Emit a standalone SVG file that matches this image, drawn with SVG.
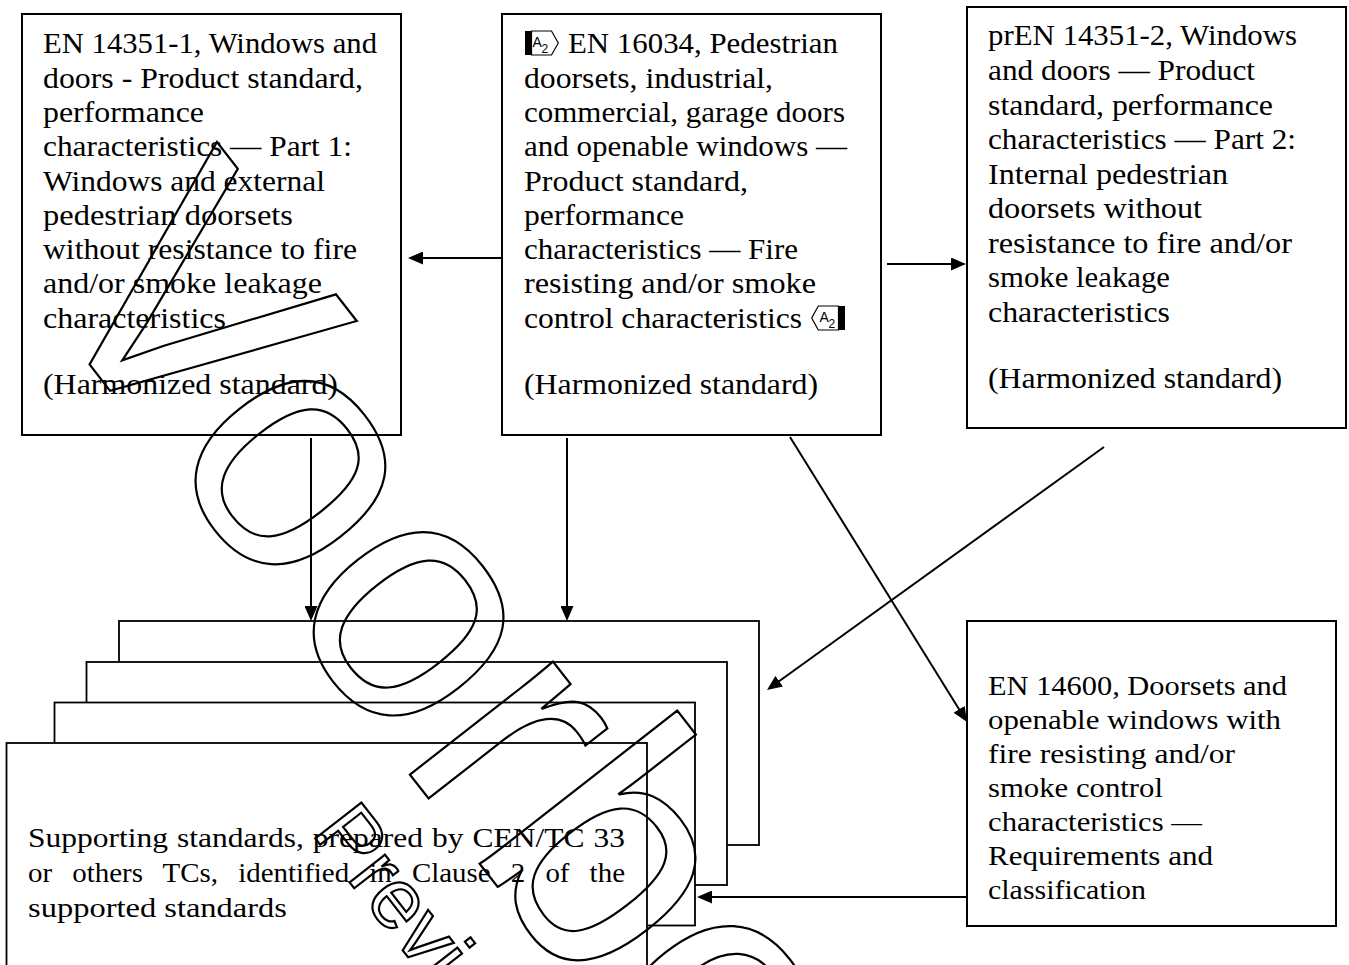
<svg xmlns="http://www.w3.org/2000/svg" width="1349" height="965" viewBox="0 0 1349 965">
<defs>
<style>
.box{fill:#fff;stroke:#000;stroke-width:2}
.stk{fill:#fff;stroke:#000;stroke-width:1.8}
.t{font-family:"Liberation Serif","Times New Roman",serif;font-size:30px;fill:#000}
.s{font-family:"Liberation Serif","Times New Roman",serif;font-size:27px;fill:#000}
.con{fill:none;stroke:#000;stroke-width:2;marker-end:url(#ah)}
.wm{font-family:"Liberation Sans",Arial,sans-serif;fill:none;stroke:#000;stroke-width:2.2}
.mk{font-family:"Liberation Sans",Arial,sans-serif;fill:#000}
</style>
<marker id="ah" markerWidth="15" markerHeight="13" refX="7" refY="6.5" orient="auto" markerUnits="userSpaceOnUse"><path d="M0,0 L15,6.5 L0,13 z" fill="#000"/></marker>
</defs>
<rect width="1349" height="965" fill="#fff"/>

<g id="en14351-1">
<rect class="box" x="22" y="14" width="379" height="421"/>
<text class="t" lengthAdjust="spacingAndGlyphs" x="43" y="53" textLength="334">EN 14351-1, Windows and</text>
<text class="t" lengthAdjust="spacingAndGlyphs" x="43" y="88" textLength="320">doors - Product standard,</text>
<text class="t" lengthAdjust="spacingAndGlyphs" x="43" y="122" textLength="161">performance</text>
<text class="t" lengthAdjust="spacingAndGlyphs" x="43" y="156" textLength="309">characteristics — Part 1:</text>
<text class="t" lengthAdjust="spacingAndGlyphs" x="43" y="191" textLength="282">Windows and external</text>
<text class="t" lengthAdjust="spacingAndGlyphs" x="43" y="225" textLength="250">pedestrian doorsets</text>
<text class="t" lengthAdjust="spacingAndGlyphs" x="43" y="259" textLength="314">without resistance to fire</text>
<text class="t" lengthAdjust="spacingAndGlyphs" x="43" y="293" textLength="279">and/or smoke leakage</text>
<text class="t" lengthAdjust="spacingAndGlyphs" x="43" y="328" textLength="183">characteristics</text>
<text class="t" lengthAdjust="spacingAndGlyphs" x="43" y="394" textLength="295">(Harmonized standard)</text>
</g>

<g id="en16034">
<rect class="box" x="502" y="14" width="379" height="421"/>
<rect x="525" y="31" width="6.5" height="24" fill="#000"/>
<path d="M531.5,31 H551.5 L558.3,43 L551.5,55 H531.5 Z" fill="#fff" stroke="#000" stroke-width="1.2"/>
<text class="mk" x="532.5" y="46.5" font-size="14">A</text>
<text class="mk" x="541.5" y="53" font-size="12">2</text>
<text class="t" lengthAdjust="spacingAndGlyphs" x="568" y="53" textLength="270">EN 16034, Pedestrian</text>
<text class="t" lengthAdjust="spacingAndGlyphs" x="524" y="88" textLength="249">doorsets, industrial,</text>
<text class="t" lengthAdjust="spacingAndGlyphs" x="524" y="122" textLength="321">commercial, garage doors</text>
<text class="t" lengthAdjust="spacingAndGlyphs" x="524" y="156" textLength="323">and openable windows —</text>
<text class="t" lengthAdjust="spacingAndGlyphs" x="524" y="191" textLength="224">Product standard,</text>
<text class="t" lengthAdjust="spacingAndGlyphs" x="524" y="225" textLength="160">performance</text>
<text class="t" lengthAdjust="spacingAndGlyphs" x="524" y="259" textLength="274">characteristics — Fire</text>
<text class="t" lengthAdjust="spacingAndGlyphs" x="524" y="293" textLength="292">resisting and/or smoke</text>
<text class="t" lengthAdjust="spacingAndGlyphs" x="524" y="328" textLength="278">control characteristics</text>
<path d="M818.3,306 H838.5 V330 H818.3 L811.7,318 Z" fill="#fff" stroke="#000" stroke-width="1.2"/>
<rect x="838.5" y="306" width="6.5" height="24" fill="#000"/>
<text class="mk" x="819.5" y="321.5" font-size="14">A</text>
<text class="mk" x="828.5" y="328" font-size="12">2</text>
<text class="t" lengthAdjust="spacingAndGlyphs" x="524" y="394" textLength="294">(Harmonized standard)</text>
</g>

<g id="pren14351-2">
<rect class="box" x="967" y="7" width="379" height="421"/>
<text class="t" lengthAdjust="spacingAndGlyphs" x="988" y="45" textLength="309">prEN 14351-2, Windows</text>
<text class="t" lengthAdjust="spacingAndGlyphs" x="988" y="80" textLength="267">and doors — Product</text>
<text class="t" lengthAdjust="spacingAndGlyphs" x="988" y="115" textLength="285">standard, performance</text>
<text class="t" lengthAdjust="spacingAndGlyphs" x="988" y="149" textLength="308">characteristics — Part 2:</text>
<text class="t" lengthAdjust="spacingAndGlyphs" x="988" y="184" textLength="240">Internal pedestrian</text>
<text class="t" lengthAdjust="spacingAndGlyphs" x="988" y="218" textLength="214">doorsets without</text>
<text class="t" lengthAdjust="spacingAndGlyphs" x="988" y="253" textLength="304">resistance to fire and/or</text>
<text class="t" lengthAdjust="spacingAndGlyphs" x="988" y="287" textLength="182">smoke leakage</text>
<text class="t" lengthAdjust="spacingAndGlyphs" x="988" y="322" textLength="182">characteristics</text>
<text class="t" lengthAdjust="spacingAndGlyphs" x="988" y="388" textLength="294">(Harmonized standard)</text>
</g>

<g id="en14600">
<rect class="box" x="967" y="621" width="369" height="305"/>
<text class="s" lengthAdjust="spacingAndGlyphs" x="988" y="695" textLength="299">EN 14600, Doorsets and</text>
<text class="s" lengthAdjust="spacingAndGlyphs" x="988" y="729" textLength="293">openable windows with</text>
<text class="s" lengthAdjust="spacingAndGlyphs" x="988" y="763" textLength="247">fire resisting and/or</text>
<text class="s" lengthAdjust="spacingAndGlyphs" x="988" y="797" textLength="175">smoke control</text>
<text class="s" lengthAdjust="spacingAndGlyphs" x="988" y="831" textLength="214">characteristics —</text>
<text class="s" lengthAdjust="spacingAndGlyphs" x="988" y="865" textLength="225">Requirements and</text>
<text class="s" lengthAdjust="spacingAndGlyphs" x="988" y="899" textLength="158">classification</text>
</g>

<g id="supporting">
<rect class="stk" x="119" y="621" width="640" height="224"/>
<rect class="stk" x="86.5" y="662" width="640.5" height="223"/>
<rect class="stk" x="54.5" y="702.5" width="640.5" height="223"/>
<rect class="stk" x="6.5" y="743" width="640.5" height="240"/>
<text class="s" lengthAdjust="spacingAndGlyphs" x="28" y="847" textLength="597" word-spacing="1">Supporting standards, prepared by CEN/TC 33</text>
<text class="s" lengthAdjust="spacingAndGlyphs" x="28" y="882" textLength="597" word-spacing="12">or others TCs, identified in Clause 2 of the</text>
<text class="s" lengthAdjust="spacingAndGlyphs" x="28" y="917" textLength="259">supported standards</text>
</g>

<g id="connectors">
<path class="con" d="M502,258 H416"/>
<path class="con" d="M887,264 H958"/>
<path class="con" d="M311,438 V613"/>
<path class="con" d="M567,438 V613"/>
<path class="con" d="M790,437 L962.8,715.2"/>
<path class="con" d="M1104,447 L773.5,685.3"/>
<path class="con" d="M967,897 H705"/>
</g>

<g id="watermark">
<text class="wm" font-size="345" transform="translate(29,287) rotate(52)">Voorbeeld</text>
<text class="wm" font-size="85" stroke-width="2" transform="translate(311,833) rotate(52)">Preview</text>
</g>
</svg>
